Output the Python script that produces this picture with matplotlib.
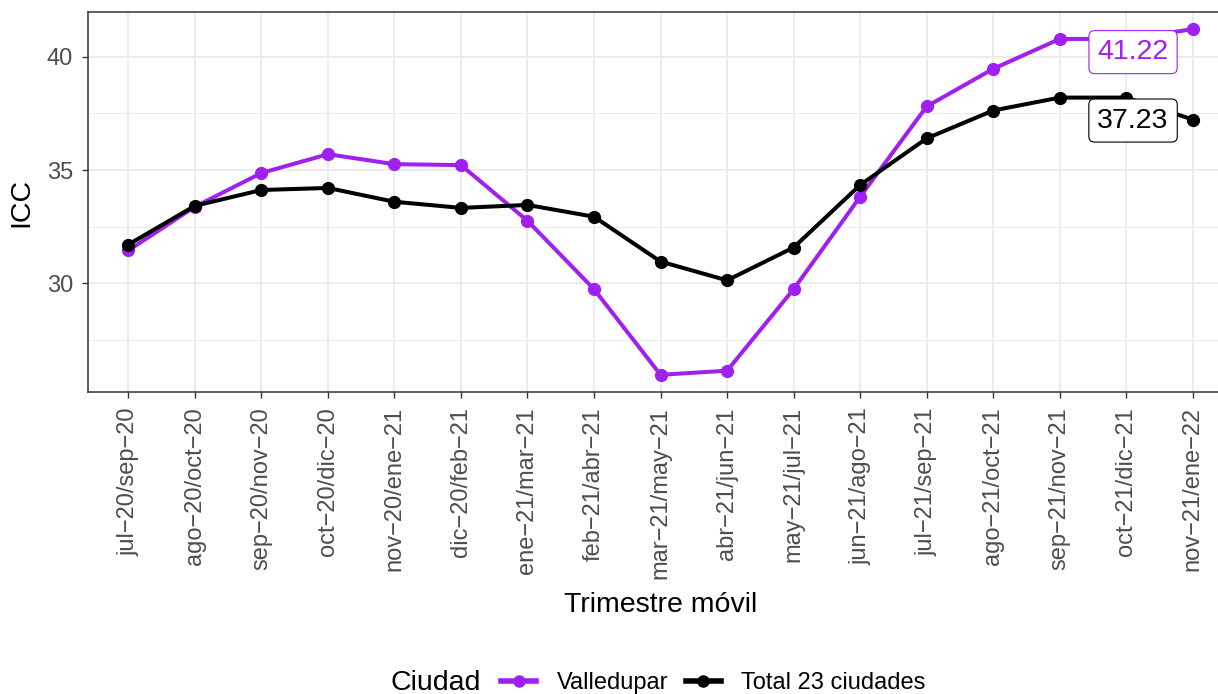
import numpy as np
import matplotlib.pyplot as plt
from matplotlib.lines import Line2D
from matplotlib.ticker import MultipleLocator

plt.rcParams["font.family"] = ["Liberation Sans", "DejaVu Sans"]

# Data
trimestres = [
    "jul−20/sep−20", "ago−20/oct−20", "sep−20/nov−20", "oct−20/dic−20",
    "nov−20/ene−21", "dic−20/feb−21", "ene−21/mar−21", "feb−21/abr−21",
    "mar−21/may−21", "abr−21/jun−21", "may−21/jul−21", "jun−21/ago−21",
    "jul−21/sep−21", "ago−21/oct−21", "sep−21/nov−21", "oct−21/dic−21",
    "nov−21/ene−22",
]
valledupar = [31.45, 33.38, 34.87, 35.70, 35.26, 35.22, 32.76, 29.74, 25.96,
              26.14, 29.74, 33.82, 37.81, 39.47, 40.79, 40.79, 41.22]
total_23 = [31.71, 33.42, 34.12, 34.21, 33.60, 33.33, 33.46, 32.94, 30.96,
            30.13, 31.58, 34.34, 36.40, 37.63, 38.20, 38.20, 37.23]

PURPLE = "#A020F0"
GRID = "#EBEBEB"
DARK = "#333333"
TICK_TEXT = "#4D4D4D"

W, H = 1218, 694
fig = plt.figure(figsize=[W / 100, H / 100], dpi=100)

# panel runs a little past the right edge, as in the reference
left, right, top, bottom = 88.4, 1232.7, 12, 392
ax = fig.add_axes([left / W, 1 - bottom / H, (right - left) / W, (bottom - top) / H])

x = np.arange(len(trimestres))
ax.plot(x, valledupar, "-o", color=PURPLE, lw=2.9, ms=8.5, zorder=3)
ax.plot(x, total_23, "-o", color="black", lw=2.9, ms=8.5, zorder=3)

ax.set_xlim(-0.6, len(trimestres) - 1 + 0.6)
ax.set_ylim(25.2, 41.98)
ax.set_xticks(x)
ax.set_xticklabels(trimestres, rotation=90, fontsize=17, color=TICK_TEXT)
ax.yaxis.set_major_locator(MultipleLocator(5))
ax.yaxis.set_minor_locator(MultipleLocator(2.5))
ax.tick_params(axis="y", labelsize=17, labelcolor=TICK_TEXT)
ax.tick_params(axis="both", which="major", length=4, width=1, color=DARK, pad=7)
ax.tick_params(axis="y", which="minor", length=0)

ax.grid(True, which="major", color=GRID, lw=1.3, zorder=0)
ax.grid(True, which="minor", axis="y", color=GRID, lw=0.7, zorder=0)
ax.set_axisbelow(True)
for sp in ax.spines.values():
    sp.set_color(DARK)
    sp.set_linewidth(1.1)

ax.set_ylabel("ICC", fontsize=20.5, labelpad=9)
ax.set_xlabel("Trimestre móvil", fontsize=20.5, labelpad=9)

# labels for the last value of each series
last = len(trimestres) - 1
box = "round,pad=0.3,rounding_size=0.2"
ax.annotate(f"{valledupar[-1]:.2f}", (x[last], valledupar[-1]), xytext=(-43, -16.5),
            textcoords="offset points", ha="center", va="center", fontsize=20.5,
            color=PURPLE, zorder=4,
            bbox=dict(boxstyle=box, fc="white", ec=PURPLE, lw=0.8))
ax.annotate(f"{total_23[-1]:.2f}", (x[last], total_23[-1]), xytext=(-43, -0.7),
            textcoords="offset points", ha="center", va="center", fontsize=20.5,
            color="black", zorder=4,
            bbox=dict(boxstyle=box, fc="white", ec="black", lw=0.8))

# legend at the bottom, title on the left
fig.text(390 / W, 1 - 683 / H, "Ciudad", fontsize=20.5, ha="left", va="center")
handles = [
    Line2D([], [], color=PURPLE, lw=4, marker="o", ms=8),
    Line2D([], [], color="black", lw=4, marker="o", ms=8),
]
fig.legend(handles, ["Valledupar", "Total 23 ciudades"], ncol=2, frameon=False,
           loc="center left", bbox_to_anchor=(501 / W, 1 - 683 / H),
           fontsize=17, handlelength=1.5, handletextpad=0.85, columnspacing=0.75,
           borderpad=0, borderaxespad=0)

fig.savefig("out.png", dpi=100)
